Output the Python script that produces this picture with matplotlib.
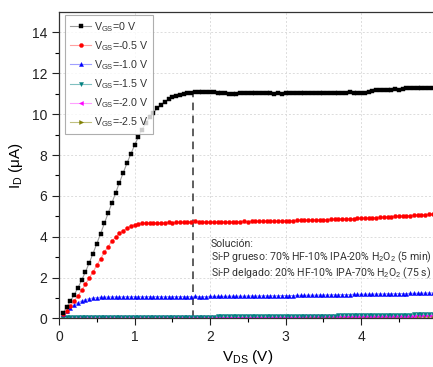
import numpy as np
import matplotlib
matplotlib.use("Agg")
import matplotlib.pyplot as plt

plt.rcParams["font.family"] = ["Liberation Sans", "DejaVu Sans"]
plt.rcParams["mathtext.fontset"] = "custom"
plt.rcParams["mathtext.rm"] = "Liberation Sans"
plt.rcParams["mathtext.it"] = "Liberation Sans:italic"

# drain voltage sweep, 0.05 V steps
vds = np.round(np.arange(1, 100) * 0.05, 2)

id_0 = [
    0.25, 0.55, 0.85, 1.15, 1.50, 1.88, 2.28, 2.72, 3.18, 3.66,
    4.15, 4.65, 5.15, 5.65, 6.15, 6.65, 7.13, 7.60, 8.05, 8.48,
    8.88, 9.25, 9.57, 9.85, 10.08, 10.28, 10.46, 10.60, 10.73, 10.84,
    10.91, 10.96, 11.00, 11.02, 11.03, 11.10, 11.08, 11.08, 11.08, 11.09,
    11.07, 11.03, 11.05, 11.02, 11.01, 11.01, 11.01, 11.02, 11.02, 11.05,
    11.04, 11.02, 11.03, 11.06, 11.05, 11.03, 11.01, 11.03, 10.99, 11.04,
    11.05, 11.06, 11.05, 11.06, 11.05, 11.05, 11.04, 11.03, 11.05, 11.06,
    11.05, 11.04, 11.03, 11.02, 11.04, 11.06, 11.08, 11.06, 11.05, 11.04,
    11.06, 11.07, 11.15, 11.20, 11.19, 11.20, 11.19, 11.20, 11.21, 11.20,
    11.22, 11.27, 11.30, 11.27, 11.26, 11.27, 11.28, 11.26, 11.27,
]
id_05 = [
    0.20, 0.38, 0.60, 0.85, 1.10, 1.38, 1.68, 1.98, 2.28, 2.60,
    2.92, 3.24, 3.52, 3.78, 3.98, 4.16, 4.30, 4.42, 4.52, 4.59,
    4.63, 4.66, 4.67, 4.68, 4.68, 4.69, 4.68, 4.69, 4.70, 4.69,
    4.70, 4.70, 4.71, 4.70, 4.72, 4.76, 4.73, 4.72, 4.72, 4.72,
    4.72, 4.73, 4.72, 4.73, 4.73, 4.74, 4.73, 4.74, 4.75, 4.74,
    4.75, 4.76, 4.75, 4.76, 4.77, 4.76, 4.77, 4.78, 4.78, 4.78,
    4.79, 4.79, 4.80, 4.80, 4.81, 4.81, 4.82, 4.82, 4.83, 4.84,
    4.84, 4.85, 4.86, 4.86, 4.87, 4.88, 4.89, 4.89, 4.90, 4.90,
    4.91, 4.92, 4.93, 4.94, 4.95, 4.96, 4.98, 4.99, 5.00, 5.01,
    5.02, 5.03, 5.04, 5.05, 5.06, 5.07, 5.08, 5.09, 5.10,
]
id_10 = [
    0.20, 0.38, 0.53, 0.66, 0.77, 0.86, 0.92, 0.97, 1.00, 1.02,
    1.04, 1.05, 1.05, 1.06, 1.06, 1.06, 1.06, 1.07, 1.06, 1.07,
    1.07, 1.06, 1.07, 1.07, 1.07, 1.07, 1.07, 1.06, 1.07, 1.07,
    1.07, 1.07, 1.07, 1.07, 1.07, 1.08, 1.07, 1.07, 1.07, 1.08,
    1.08, 1.08, 1.08, 1.08, 1.09, 1.09, 1.09, 1.09, 1.09, 1.10,
    1.10, 1.10, 1.10, 1.11, 1.11, 1.11, 1.11, 1.11, 1.12, 1.12,
    1.12, 1.12, 1.13, 1.13, 1.13, 1.14, 1.14, 1.14, 1.15, 1.15,
    1.15, 1.16, 1.16, 1.16, 1.17, 1.17, 1.17, 1.18, 1.18, 1.18,
    1.19, 1.19, 1.19, 1.20, 1.20, 1.20, 1.21, 1.21, 1.21, 1.22,
    1.22, 1.22, 1.23, 1.23, 1.23, 1.24, 1.24, 1.25, 1.25,
]
id_15 = [
    0.03, 0.05, 0.06, 0.07, 0.07, 0.08, 0.08, 0.08, 0.08, 0.08,
    0.08, 0.08, 0.08, 0.08, 0.08, 0.08, 0.08, 0.08, 0.08, 0.08,
    0.08, 0.08, 0.08, 0.08, 0.08, 0.08, 0.08, 0.08, 0.08, 0.08,
    0.09, 0.09, 0.09, 0.09, 0.09, 0.09, 0.09, 0.09, 0.09, 0.09,
    0.09, 0.10, 0.10, 0.10, 0.10, 0.10, 0.10, 0.10, 0.10, 0.10,
    0.11, 0.11, 0.11, 0.11, 0.11, 0.11, 0.11, 0.12, 0.12, 0.12,
    0.12, 0.12, 0.12, 0.13, 0.13, 0.13, 0.13, 0.13, 0.14, 0.14,
    0.14, 0.14, 0.14, 0.15, 0.15, 0.15, 0.15, 0.16, 0.16, 0.16,
    0.16, 0.17, 0.17, 0.17, 0.17, 0.18, 0.18, 0.18, 0.18, 0.19,
    0.19, 0.19, 0.19, 0.20, 0.20, 0.20, 0.20, 0.21, 0.21,
]
id_20 = [
    0.02, 0.03, 0.04, 0.04, 0.05, 0.05, 0.05, 0.05, 0.05, 0.05,
    0.05, 0.05, 0.05, 0.05, 0.05, 0.05, 0.05, 0.05, 0.05, 0.05,
    0.05, 0.05, 0.05, 0.05, 0.05, 0.05, 0.05, 0.05, 0.05, 0.06,
    0.06, 0.06, 0.06, 0.06, 0.06, 0.06, 0.06, 0.06, 0.06, 0.06,
    0.07, 0.07, 0.07, 0.07, 0.07, 0.07, 0.07, 0.07, 0.07, 0.08,
    0.08, 0.08, 0.08, 0.08, 0.08, 0.08, 0.08, 0.09, 0.09, 0.09,
    0.09, 0.09, 0.09, 0.09, 0.10, 0.10, 0.10, 0.10, 0.10, 0.10,
    0.10, 0.11, 0.11, 0.11, 0.11, 0.11, 0.11, 0.12, 0.12, 0.12,
    0.12, 0.12, 0.12, 0.13, 0.13, 0.13, 0.13, 0.13, 0.13, 0.14,
    0.14, 0.14, 0.14, 0.14, 0.15, 0.15, 0.15, 0.15, 0.15,
]
id_25 = [
    0.01, 0.02, 0.03, 0.03, 0.03, 0.03, 0.03, 0.03, 0.03, 0.03,
    0.03, 0.03, 0.03, 0.03, 0.03, 0.03, 0.03, 0.03, 0.03, 0.03,
    0.03, 0.03, 0.03, 0.03, 0.03, 0.03, 0.03, 0.03, 0.04, 0.04,
    0.04, 0.04, 0.04, 0.04, 0.04, 0.04, 0.04, 0.04, 0.04, 0.04,
    0.04, 0.04, 0.05, 0.05, 0.05, 0.05, 0.05, 0.05, 0.05, 0.05,
    0.05, 0.05, 0.06, 0.06, 0.06, 0.06, 0.06, 0.06, 0.06, 0.06,
    0.06, 0.07, 0.07, 0.07, 0.07, 0.07, 0.07, 0.07, 0.07, 0.08,
    0.08, 0.08, 0.08, 0.08, 0.08, 0.08, 0.09, 0.09, 0.09, 0.09,
    0.09, 0.09, 0.09, 0.10, 0.10, 0.10, 0.10, 0.10, 0.10, 0.10,
    0.11, 0.11, 0.11, 0.11, 0.11, 0.11, 0.12, 0.12, 0.12,
]

labels = ["0", "-0.5", "-1.0", "-1.5", "-2.0", "-2.5"]
series = [id_0, id_05, id_10, id_15, id_20, id_25]
markers = ["s", "o", "^", "v", "<", ">"]
colors = ["#000000", "#ff0000", "#0000ff", "#008080", "#ff00ff", "#808000"]
line_colors = ["#9a9a9a", "#ffa0a0", "#a0a0ff", "#80c0c0", "#ffa0ff", "#c0c080"]

v_sat = 1.78  # dashed marker at saturation onset
v_sat_top = 11.1

fig = plt.figure(figsize=(4.33, 3.67), dpi=100)
ax = fig.add_axes([0.1363, 0.1322, 0.872, 0.835])

# draw lowest first so the big curves sit on top
for lab, y, m, c, lc in reversed(list(zip(labels, series, markers, colors, line_colors))):
    ax.plot(vds, y, color=lc, lw=0.8, marker=m, markersize=2.9,
            markerfacecolor=c, markeredgecolor=c, markeredgewidth=0.3,
            label=r"V$_{\mathrm{GS}}$=" + lab + " V", clip_on=True)

ax.plot([v_sat, v_sat], [0, v_sat_top], color="#333333", lw=1.1,
        ls=(0, (5, 3.5)), zorder=1)

ax.set_xlim(0, 5)
ax.set_ylim(0, 15)
ax.set_xticks([0, 1, 2, 3, 4])
ax.set_xticks([0.5, 1.5, 2.5, 3.5, 4.5], minor=True)
ax.set_yticks([0, 2, 4, 6, 8, 10, 12, 14])
ax.set_yticks(np.arange(1, 15, 2), minor=True)
ax.tick_params(which="major", direction="out", length=5, width=0.8,
               labelsize=10, colors="#222222")
ax.tick_params(which="minor", direction="out", length=3, width=0.8)
ax.grid(True, which="major", color="#dcdcdc", ls=(0, (2, 2)), lw=0.7)
ax.set_axisbelow(True)
for s in ax.spines.values():
    s.set_color("#333333")
    s.set_linewidth(0.9)

ax.set_xlabel(r"V$_{\mathrm{DS}}$ (V)", fontsize=11, labelpad=3)
ax.set_ylabel(r"I$_{\mathrm{D}}$ (μA)", fontsize=11, labelpad=5)

handles, labs = ax.get_legend_handles_labels()
leg = ax.legend(handles[::-1], labs[::-1], loc="upper left",
                bbox_to_anchor=(0.016, 0.99), borderaxespad=0, fontsize=7.7,
                frameon=True, fancybox=False, edgecolor="#9a9a9a",
                handlelength=2.0, handletextpad=0.25, labelspacing=0.5,
                borderpad=0.45, markerscale=1.0)
leg.get_frame().set_linewidth(0.8)
for t in leg.get_texts():
    t.set_color("#333333")

note_font = ["Roboto", "DejaVu Sans"]
note_size = 7.6
ax.text(2.01, 3.64, "Solución:", fontsize=note_size, color="#333333",
        family=note_font, va="center")
ax.text(2.01, 2.97, r"Si-P grueso: 70% HF-10% IPA-20% H$_2$O$_2$ (5 min)",
        fontsize=note_size, color="#333333", family=note_font, va="center")
ax.text(2.01, 2.2, r"Si-P delgado: 20% HF-10% IPA-70% H$_2$O$_2$ (75 s)",
        fontsize=note_size, color="#333333", family=note_font, va="center")

fig.savefig("out.png", dpi=100)
